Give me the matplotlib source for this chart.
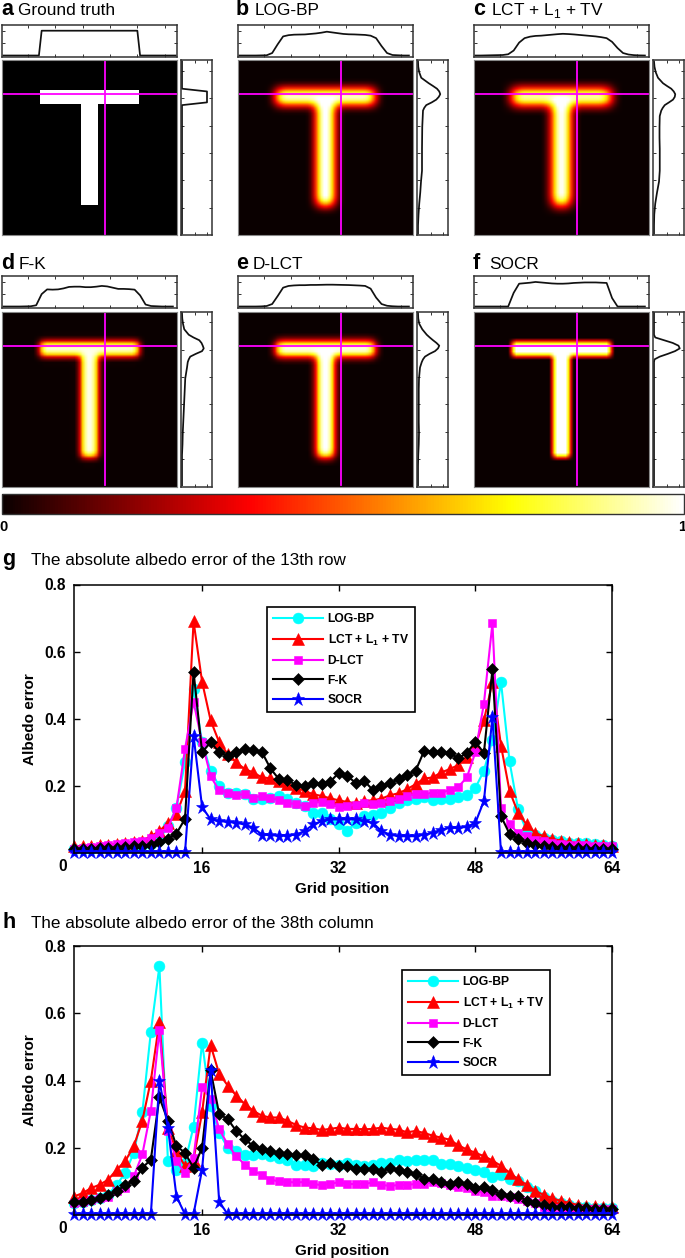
import numpy as np
import matplotlib
matplotlib.use("Agg")
import matplotlib.pyplot as plt

plt.rcParams['font.family'] = ['Liberation Sans', 'DejaVu Sans']
plt.rcParams['mathtext.fontset'] = 'custom'
plt.rcParams['mathtext.rm'] = 'Liberation Sans'
plt.rcParams['mathtext.bf'] = 'Liberation Sans:bold'

W, H = 685, 1258

# ---------------------- line chart data ----------------------
grid = np.arange(1, 65)

g_logbp = [.012,.012,.013,.014,.015,.016,.018,.02,.023,.028,.04,.08,.135,.27,.49,.33,.245,.2,.18,.18,.175,.16,.16,.165,.17,.16,.15,.14,.12,.12,.10,.085,.067,.09,.11,.112,.12,.134,.15,.157,.16,.167,.157,.16,.16,.166,.172,.194,.245,.338,.51,.273,.13,.065,.055,.045,.04,.035,.03,.03,.03,.028,.025,.02]
g_lct = [.02,.021,.022,.023,.025,.027,.03,.033,.037,.05,.065,.09,.115,.185,.69,.51,.395,.33,.295,.27,.25,.24,.225,.223,.215,.205,.195,.185,.175,.17,.163,.157,.152,.148,.155,.157,.162,.172,.178,.19,.205,.222,.225,.24,.25,.262,.285,.32,.395,.51,.32,.185,.12,.085,.06,.05,.042,.037,.032,.03,.027,.025,.023,.02]
g_dlct = [.012,.015,.017,.02,.023,.026,.03,.033,.037,.045,.06,.075,.135,.31,.45,.33,.228,.187,.18,.173,.175,.165,.17,.165,.158,.15,.145,.14,.15,.152,.146,.137,.14,.144,.15,.145,.15,.155,.16,.17,.175,.175,.18,.18,.187,.197,.225,.30,.445,.685,.135,.085,.06,.05,.04,.035,.03,.027,.025,.024,.023,.022,.021,.02]
g_fk = [.012,.012,.013,.014,.015,.016,.018,.02,.022,.025,.032,.043,.058,.102,.54,.30,.33,.30,.29,.30,.311,.306,.301,.252,.220,.217,.202,.199,.209,.207,.212,.239,.229,.209,.214,.188,.199,.209,.219,.232,.245,.304,.301,.301,.298,.282,.298,.331,.298,.547,.11,.057,.042,.03,.025,.02,.018,.016,.015,.014,.013,.013,.012,.012]
g_socr = [.002]*14 + [.35,.137,.10,.095,.093,.09,.085,.075,.055,.053,.052,.052,.055,.065,.085,.095,.10,.10,.10,.10,.095,.09,.065,.055,.05,.05,.05,.055,.06,.07,.075,.075,.078,.09,.155,.405] + [.002]*14

h_logbp = [.035,.04,.045,.05,.06,.09,.125,.185,.305,.545,.74,.16,.135,.155,.263,.513,.325,.245,.20,.19,.178,.178,.18,.175,.17,.165,.15,.148,.145,.156,.153,.148,.156,.148,.145,.15,.155,.156,.163,.161,.165,.163,.165,.153,.153,.145,.141,.133,.129,.113,.118,.106,.10,.084,.072,.054,.042,.035,.03,.025,.023,.022,.02,.02]
h_lct = [.055,.065,.08,.09,.105,.135,.16,.205,.28,.40,.575,.26,.19,.145,.165,.305,.505,.42,.385,.355,.33,.31,.295,.29,.29,.28,.268,.26,.258,.253,.256,.26,.256,.256,.255,.256,.26,.256,.254,.246,.25,.244,.236,.23,.224,.207,.195,.185,.175,.162,.146,.126,.106,.09,.072,.06,.05,.042,.036,.03,.027,.027,.025,.023]
h_dlct = [.035,.04,.045,.05,.055,.07,.08,.115,.18,.31,.55,.25,.16,.125,.17,.38,.345,.255,.21,.175,.15,.13,.12,.105,.10,.098,.097,.098,.092,.089,.092,.098,.092,.092,.092,.097,.089,.087,.089,.09,.092,.092,.097,.094,.089,.084,.079,.07,.067,.057,.057,.054,.049,.042,.035,.025,.02,.02,.019,.018,.018,.017,.017,.017]
h_fk = [.04,.04,.045,.05,.06,.07,.09,.10,.14,.165,.35,.28,.205,.185,.14,.20,.43,.30,.285,.25,.225,.205,.195,.19,.185,.18,.177,.177,.167,.148,.155,.145,.145,.136,.136,.136,.128,.14,.133,.128,.123,.108,.108,.097,.092,.097,.092,.079,.084,.074,.061,.057,.057,.042,.035,.03,.025,.023,.025,.02,.02,.019,.018,.018]
h_socr = [.002]*10 + [.40,.26,.055,.002,.003,.135,.43,.04] + [.002]*46

series_names = ['LOG-BP', r'LCT + L$_{\mathbf{1}}$ + TV', 'D-LCT', 'F-K', 'SOCR']
series_colors = ['#00ffff', '#ff0000', '#ff00ff', '#000000', '#0000ff']
series_markers = ['o', '^', 's', 'D', '*']
series_sizes = [7.8, 8.6, 5.6, 6.0, 9.8]

# ---------------------- T panels data ----------------------
T_BAR_ROWS = (11, 16); T_BAR_COLS = (14, 50)
T_STEM_ROWS = (16, 53); T_STEM_COLS = (29, 35)
CUT_ROW, CUT_COL = 12, 37

panel_letters = ['a', 'b', 'c', 'd', 'e', 'f']
panel_titles = ['Ground truth', 'LOG-BP', r'LCT + L$_1$ + TV', 'F-K', 'D-LCT', 'SOCR']

# per-panel point-spread of the reconstruction
kernels = [[1.0],
           [.02,.07,.15,.22,.25,.22,.15,.07,.02],
           [.03,.07,.12,.18,.20,.18,.12,.07,.03],
           [.10,.20,.40,.20,.10],
           [.04,.10,.20,.30,.20,.10,.04],
           [.30,.40,.30]]
gains = [1.0, 1.08, 1.06, .92, 1.02, 1.08]
halo_kernel = [1,2,3,4,5,6,5,4,3,2,1]
halo_gains = [0.0, 0.05, 0.08, 0.07, 0.06, 0.0]

top_cols = list(range(0, 64, 2))
top_a_cols = [0, 13, 14, 49, 50, 63]
top_a = [0, 0, 1, 1, 0, 0]
top_b = [0,0,0,0,.005,.01,.1,.45,.77,.82,.84,.845,.85,.87,.89,.92,.96,.93,.9,.87,.855,.85,.84,.83,.8,.7,.38,.1,.02,.01,0,0]
top_c = [0,0,.005,.01,.015,.02,.05,.2,.52,.7,.76,.79,.8,.82,.84,.86,.875,.865,.85,.83,.81,.79,.77,.74,.7,.55,.3,.1,.04,.015,.005,0]
top_d = [0,0,0,0,.005,.01,.05,.5,.69,.68,.69,.73,.79,.8,.8,.78,.78,.8,.83,.81,.76,.71,.71,.7,.68,.45,.08,.02,.01,0,0,0]
top_e = [0,0,0,0,.005,.02,.1,.42,.76,.83,.85,.86,.86,.87,.87,.875,.88,.88,.875,.87,.865,.855,.845,.83,.72,.36,.1,.03,.01,0,0,0]
top_f = [0,0,0,0,0,0,0,.55,.92,.94,.96,.99,.97,.95,.93,.92,.92,.93,.95,.96,.97,.97,.97,.96,.95,.34,0,0,0,0,0,0]

side_rows = [0,2,4,6,8,9,10,11,12,13,14,15,16,17,18,20,24,28,32,36,40,44,48,52,56,60,63]
side_a = [0,0,0,0,0,0,0,1,1,1,1,1,0,0,0,0,0,0,0,0,0,0,0,0,0,0,0]
side_b = [0,.01,.05,.13,.43,.6,.76,.85,.89,.83,.73,.55,.33,.25,.2,.19,.17,.165,.16,.16,.16,.12,.09,.05,.02,0,0]
side_c = [0,.02,.07,.16,.36,.52,.69,.79,.85,.83,.76,.6,.43,.35,.29,.23,.22,.22,.23,.23,.23,.2,.12,.05,.01,0,0]
side_d = [0,.01,.04,.09,.27,.46,.69,.78,.83,.87,.8,.55,.33,.27,.23,.2,.13,.11,.09,.07,.05,.03,.02,0,0,0,0]
side_e = [0,.01,.05,.17,.35,.47,.6,.74,.85,.8,.68,.46,.28,.2,.15,.08,.04,.03,.03,.03,.03,.04,.03,.01,0,0,0]
side_f = [0,0,0,0,0,.05,.4,.75,.98,1.03,.84,.55,.23,.02,0,0,0,0,0,0,0,0,0,0,0,0,0]

top_profiles = [top_a, top_b, top_c, top_d, top_e, top_f]
top_grids = [top_a_cols] + [top_cols] * 5
side_profiles = [side_a, side_b, side_c, side_d, side_e, side_f]

# ---------------------- layout helpers ----------------------
fig = plt.figure(figsize=(W / 100, H / 100), dpi=100)

def ax_px(x0, y0, x1, y1, **kw):
    return fig.add_axes([x0 / W, 1 - y1 / H, (x1 - x0) / W, (y1 - y0) / H], **kw)

def txt(x, y, s, **kw):
    kw.setdefault('va', 'baseline')
    return fig.text(x / W, 1 - y / H, s, **kw)

def box(ax, color='#333333', lw=1.1):
    for sp in ax.spines.values():
        sp.set_color(color); sp.set_linewidth(lw)

def conv2(img, k):
    k = np.asarray(k, float)
    k = k / k.sum()
    pad = len(k) // 2
    out = np.pad(img, pad, mode='constant')
    out = np.apply_along_axis(lambda m: np.convolve(m, k, mode='same'), 0, out)
    out = np.apply_along_axis(lambda m: np.convolve(m, k, mode='same'), 1, out)
    return out[pad:-pad, pad:-pad] if pad else out

truth = np.zeros((64, 64))
truth[T_BAR_ROWS[0]:T_BAR_ROWS[1], T_BAR_COLS[0]:T_BAR_COLS[1]] = 1
truth[T_STEM_ROWS[0]:T_STEM_ROWS[1], T_STEM_COLS[0]:T_STEM_COLS[1]] = 1

col_left = [2, 238, 474] * 2
row_tops = [25, 25, 25, 276, 276, 276]
row_imgt = [60, 60, 60, 311.5, 311.5, 311.5]
letter_x = [1, 236, 473, 1, 236, 473]
title_x = [18, 255, 491, 19, 253, 489]
label_y = [15, 15, 15, 269, 269, 269]

for i in range(6):
    x0, yt, yi = col_left[i], row_tops[i], row_imgt[i]
    ax = ax_px(x0, yi, x0 + 175, yi + 175)
    img = conv2(truth, kernels[i]) * gains[i]
    if halo_gains[i] > 0:
        img = img + conv2(truth, halo_kernel) * halo_gains[i]
    ax.imshow(np.clip(img, 0, 1), cmap='hot', vmin=0, vmax=1,
              interpolation='bilinear', aspect='auto')
    if i == 0:
        ax.images[0].set_cmap('gray')
        ax.images[0].set_interpolation('nearest')
    ax.axhline(CUT_ROW, xmin=.006, xmax=.994, color='#ff00ff', lw=1.3)
    ax.axvline(CUT_COL, ymin=.006, ymax=.994, color='#ff00ff', lw=1.3)
    ax.set_xticks([]); ax.set_yticks([])
    box(ax, '#888888', .8)

    at = ax_px(x0, yt, x0 + 175, yt + 31.5)
    at.plot(top_grids[i], top_profiles[i], color='#111111', lw=1.25)
    at.set_xlim(-.5, 63.5); at.set_ylim(-.04, 1.23)
    at.set_xticks(np.arange(9, 60, 10)); at.set_yticks([.5, 1])
    at.tick_params(direction='in', length=2, width=.7, top=True, right=True,
                   labelbottom=False, labelleft=False, color='#333333')
    box(at)

    asd = ax_px(x0 + 179, yi, x0 + 210, yi + 175)
    asd.plot(side_profiles[i], side_rows, color='#111111', lw=1.25)
    asd.set_ylim(63.5, -.5); asd.set_xlim(-.04, 1.2)
    asd.set_yticks(np.arange(3.5, 55, 10)); asd.set_xticks([.5, 1])
    asd.tick_params(direction='in', length=2, width=.7, top=True, right=True,
                    labelbottom=False, labelleft=False, color='#333333')
    box(asd)

    txt(letter_x[i], label_y[i], panel_letters[i], fontsize=15.5, fontweight='bold')
    txt(title_x[i], label_y[i], panel_titles[i], fontsize=12.4)

# colour bar
cax = ax_px(2, 494, 684, 514)
sm = plt.cm.ScalarMappable(cmap='hot', norm=plt.Normalize(0, 1))
cb = fig.colorbar(sm, cax=cax, orientation='horizontal')
cb.set_ticks([])
cb.outline.set_edgecolor('#333333'); cb.outline.set_linewidth(1.0)
txt(4, 531, '0', fontsize=10.5, fontweight='bold', ha='center')
txt(682, 531, '1', fontsize=10.5, fontweight='bold', ha='center')

# ---------------------- line charts ----------------------
def line_panel(top, bottom, data, letter, title, title_y, leg_x, leg_y):
    ax = ax_px(74, top, 612, bottom)
    for vals, nm, c, m, ms in zip(data, series_names, series_colors, series_markers, series_sizes):
        ax.plot(grid, vals, color=c, marker=m, ms=ms, mec=c, mfc=c, mew=.4,
                lw=1.5, label=nm, clip_on=False)
    ax.set_xlim(1, 64); ax.set_ylim(0, .8)
    ax.set_xticks([16, 32, 48, 64]); ax.set_yticks([.2, .4, .6, .8])
    ax.tick_params(direction='in', length=4, width=1, top=True, right=True, pad=6)
    ax.set_yticklabels(['0.2', '0.4', '0.6', '0.8'])
    for lab in ax.get_xticklabels() + ax.get_yticklabels():
        lab.set_fontweight('bold'); lab.set_fontsize(11.2)
    for sp in ax.spines.values():
        sp.set_linewidth(1.1); sp.set_zorder(5)
    txt(63, bottom + 18, '0', fontsize=11.2, fontweight='bold', ha='center')
    txt(342, bottom + 40, 'Grid position', fontsize=10.9, fontweight='bold', ha='center')
    fig.text(30 / W, 1 - (top + bottom) / 2 / H, 'Albedo error', fontsize=11, fontweight='bold',
             rotation=90, ha='center', va='center')
    txt(2, title_y, letter, fontsize=15.5, fontweight='bold')
    txt(31, title_y, title, fontsize=12.3)
    leg = ax.legend(loc='upper left', bbox_to_anchor=(leg_x / W, 1 - leg_y / H),
                    bbox_transform=fig.transFigure, borderaxespad=0,
                    prop={'weight': 'bold', 'size': 8.7}, frameon=True, fancybox=False,
                    framealpha=1, edgecolor='black', handlelength=4.1, handletextpad=.42,
                    labelspacing=.62, borderpad=.5)
    leg.get_frame().set_linewidth(1.2)
    return ax

g_data = [g_logbp, g_lct, g_dlct, g_fk, g_socr]
h_data = [h_logbp, h_lct, h_dlct, h_fk, h_socr]
line_panel(584.5, 853, g_data, 'g', 'The absolute albedo error of the 13th row', 565, 267, 607)
line_panel(946, 1215, h_data, 'h', 'The absolute albedo error of the 38th column', 928, 402, 970)

fig.savefig('out.png', dpi=100)
